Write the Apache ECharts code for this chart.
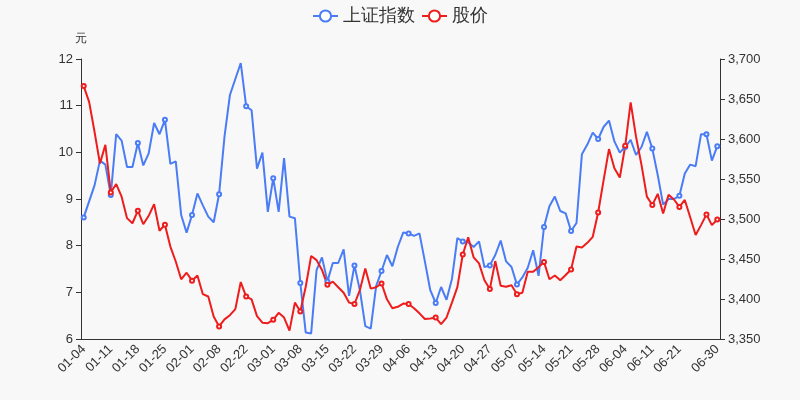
<!DOCTYPE html>
<html>
<head>
<meta charset="utf-8">
<script src="https://cdn.jsdelivr.net/npm/echarts@6/dist/echarts.min.js"></script>
<style>
html,body{margin:0;padding:0;background:#f8f8f8;}
#c{width:800px;height:400px;}
</style>
</head>
<body>
<div id="c"></div>
<script>
var categories = [
'01-04','01-05','01-06','01-07','01-08','01-11','01-12','01-13','01-14','01-15',
'01-18','01-19','01-20','01-21','01-22','01-25','01-26','01-27','01-28','01-29',
'02-01','02-02','02-03','02-04','02-05','02-08','02-09','02-10','02-18','02-19',
'02-22','02-23','02-24','02-25','02-26','03-01','03-02','03-03','03-04','03-05',
'03-08','03-09','03-10','03-11','03-12','03-15','03-16','03-17','03-18','03-19',
'03-22','03-23','03-24','03-25','03-26','03-29','03-30','03-31','04-01','04-02',
'04-06','04-07','04-08','04-09','04-12','04-13','04-14','04-15','04-16','04-19',
'04-20','04-21','04-22','04-23','04-26','04-27','04-28','04-29','04-30','05-06',
'05-07','05-10','05-11','05-12','05-13','05-14','05-17','05-18','05-19','05-20',
'05-21','05-24','05-25','05-26','05-27','05-28','05-31','06-01','06-02','06-03',
'06-04','06-07','06-08','06-09','06-10','06-11','06-15','06-16','06-17','06-18',
'06-21','06-22','06-23','06-24','06-25','06-28','06-29','06-30'
];
var indexValues = [
3502,3522,3542,3573,3568,3530,3606,3598,3565,3565,
3595,3567,3582,3620,3606,3624,3569,3572,3505,3483,
3505,3532,3517,3503,3496,3531,3603,3655,3675,3695,
3641,3636,3563,3583,3509,3551,3509,3576,3503,3501,
3420,3358,3357,3436,3452,3422,3445,3445,3462,3404,
3442,3411,3366,3363,3416,3435,3455,3441,3465,3483,
3482,3479,3482,3447,3411,3395,3415,3399,3425,3476,
3472,3471,3465,3472,3440,3442,3455,3473,3447,3440,
3418,3427,3439,3461,3429,3490,3516,3528,3510,3507,
3485,3495,3581,3593,3608,3600,3615,3623,3597,3583,
3590,3599,3580,3590,3609,3588,3555,3518,3525,3525,
3529,3557,3568,3566,3606,3606,3573,3591
];
var priceValues = [
11.42,11.08,10.44,9.76,10.16,9.14,9.32,9.05,8.59,8.48,
8.75,8.46,8.64,8.89,8.32,8.45,7.98,7.66,7.28,7.42,
7.25,7.36,6.96,6.91,6.48,6.27,6.42,6.51,6.64,7.22,
6.91,6.85,6.49,6.35,6.34,6.41,6.56,6.46,6.18,6.78,
6.59,7.12,7.78,7.69,7.48,7.16,7.23,7.11,6.99,6.78,
6.75,7.05,7.51,7.08,7.11,7.19,6.85,6.66,6.69,6.76,
6.75,6.66,6.55,6.43,6.44,6.46,6.32,6.46,6.78,7.11,
7.81,8.18,7.75,7.62,7.26,7.07,7.67,7.14,7.12,7.15,
6.96,6.99,7.44,7.44,7.54,7.65,7.28,7.36,7.26,7.37,
7.49,7.98,7.96,8.06,8.19,8.71,9.40,10.07,9.66,9.46,
10.14,11.07,10.33,9.73,9.05,8.87,9.11,8.69,9.09,8.99,
8.83,8.98,8.61,8.23,8.44,8.67,8.44,8.56
];
var leftTicks = {min: 6, max: 12, interval: 1};
var rightTicks = {min: 3350, max: 3700, interval: 50};

var lastIdx = categories.length - 1;
function markIdx(i){ return i % 5 === 0 || i === lastIdx; }
function withMarks(arr){
  return arr.map(function(v, i){ return markIdx(i) ? v : {value: v, symbol: 'none'}; });
}

var BLUE = '#4a7cf6', RED = '#ee1c1c';
var chart = echarts.init(document.getElementById('c'));
chart.setOption({
  backgroundColor: '#f8f8f8',
  animation: false,
  legend: {
    top: 2,
    left: 'center',
    itemGap: 6,
    itemWidth: 25,
    itemHeight: 14,
    textStyle: {fontSize: 18, color: '#333'},
    data: ['上证指数', '股价']
  },
  grid: {left: 81, right: 80, top: 59, bottom: 61},
  xAxis: {
    type: 'category',
    data: categories,
    axisLine: {lineStyle: {color: '#333'}},
    axisTick: {interval: function(i){ return i % 5 === 0; }, lineStyle: {color: '#333'}},
    axisLabel: {
      rotate: 45,
      fontSize: 13,
      color: '#333',
      interval: function(i){ return (i % 5 === 0 && i !== 115) || i === lastIdx; }
    }
  },
  yAxis: [{
    type: 'value',
    name: '元',
    nameGap: 14,
    nameTextStyle: {color: '#333', fontSize: 12, align: 'center'},
    min: leftTicks.min, max: leftTicks.max, interval: leftTicks.interval,
    splitLine: {show: false},
    axisLine: {show: true, lineStyle: {color: '#333'}},
    axisTick: {show: true, lineStyle: {color: '#333'}},
    axisLabel: {fontSize: 13, color: '#333'}
  }, {
    type: 'value',
    position: 'right',
    min: rightTicks.min, max: rightTicks.max, interval: rightTicks.interval,
    splitLine: {show: false},
    axisLine: {show: true, lineStyle: {color: '#333'}},
    axisTick: {show: true, lineStyle: {color: '#333'}},
    axisLabel: {fontSize: 13, color: '#333', formatter: function(v){ return v.toLocaleString('en-US'); }}
  }],
  series: [{
    name: '上证指数',
    type: 'line',
    yAxisIndex: 1,
    data: withMarks(indexValues),
    showAllSymbol: true,
    symbol: 'emptyCircle',
    symbolSize: 4,
    itemStyle: {color: BLUE, borderWidth: 1},
    lineStyle: {color: BLUE, width: 2}
  }, {
    name: '股价',
    type: 'line',
    yAxisIndex: 0,
    data: withMarks(priceValues),
    showAllSymbol: true,
    symbol: 'emptyCircle',
    symbolSize: 4,
    itemStyle: {color: RED, borderWidth: 1},
    lineStyle: {color: RED, width: 2}
  }]
});
</script>
</body>
</html>
